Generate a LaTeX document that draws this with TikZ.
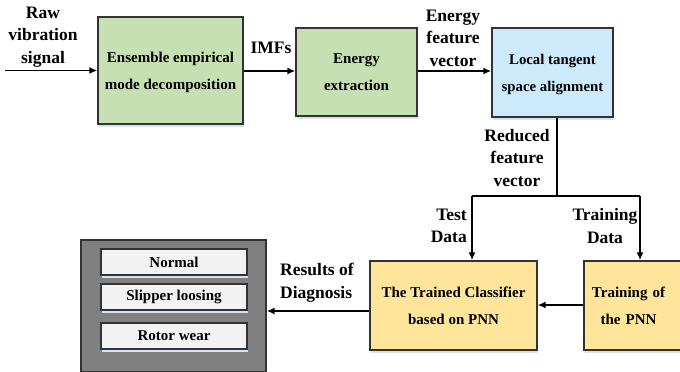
\documentclass[tikz,border=0pt]{standalone}
\usepackage{fontspec}
\setmainfont{Liberation Serif}
\usetikzlibrary{arrows.meta}
\definecolor{gfill}{RGB}{198,224,180}
\definecolor{bfill}{RGB}{204,234,252}
\definecolor{yfill}{RGB}{255,229,153}
\definecolor{grey}{RGB}{128,128,128}
\definecolor{lgrey}{RGB}{242,242,242}
\definecolor{shad}{RGB}{214,226,240}
\newcommand{\twolines}[3]{\raisebox{-#3}{\begin{tabular}{@{}c@{}}#1\\#2\end{tabular}}}
\begin{document}
\begin{tikzpicture}[x=1pt,y=-1pt,
  box/.style={draw=black!80,line width=1.4pt,align=center,font=\fontsize{15}{27}\selectfont\bfseries,inner sep=0pt},
  lab/.style={align=center,font=\fontsize{17.5}{22.5}\selectfont\bfseries,inner sep=0pt},
  conn/.style={line width=1.5pt,-{Latex[length=8pt,width=7pt]}},
  line/.style={line width=1.5pt}]
\useasboundingbox (0,0) rectangle (680,372);
% shadows
\foreach \a/\b/\c/\d in {98/17/243/124, 296/28/417/116, 492/28/613/117, 370/261/537/350, 584/261/690/350}
  \fill[shad] (\a+1,\d) rectangle (\c+1,\d+3);
% boxes
\node[box,fill=gfill,minimum width=145pt,minimum height=107pt] (eemd) at (170.5,70.5) {\twolines{Ensemble empirical}{mode decomposition}{3pt}};
\node[box,fill=gfill,minimum width=121pt,minimum height=88pt] (energy) at (356.5,72) {\twolines{Energy}{extraction}{2.5pt}};
\node[box,fill=bfill,minimum width=121pt,minimum height=89pt,font=\fontsize{14.8}{27}\selectfont\bfseries] (ltsa) at (552.5,72.5) {\twolines{Local tangent}{space alignment}{2pt}};
\node[box,fill=yfill,minimum width=167pt,minimum height=89pt] (cls) at (453.5,305.5) {\twolines{The Trained Classifier}{based on PNN}{1pt}};
\node[box,fill=yfill,minimum width=106pt,minimum height=89pt,text width=100pt] (train) at (637,305.5) {\hspace*{-17pt}\twolines{Training of}{the PNN}{1pt}};
% result box
\node[box,fill=grey,minimum width=185pt,minimum height=132pt] (res) at (173.5,306) {};
\foreach \n/\y/\t in {n1/262/Normal, n2/297/Slipper loosing, n3/336/Rotor wear}{
  \fill[shad] (102,\y+13) rectangle (248,\y+16);
  \node[box,fill=lgrey,line width=1.1pt,minimum width=146pt,minimum height=26pt] (\n) at (174,\y) {\t};
}
% connectors
\coordinate (start) at (5,70.5);
\draw[conn] (start) -- (eemd.west |- start);
\draw[conn] (eemd.east |- 0,71) -- (energy.west |- 0,71);
\draw[conn] (energy.east |- 0,71) -- (ltsa.west |- 0,71);
\coordinate (split) at (557,196);
\coordinate (sl) at (472,196);
\coordinate (sr) at (640,196);
\draw[line] (ltsa.south -| split) -- (split);
\draw[line] (sl) -- (sr);
\draw[conn] (sl) -- (sl |- cls.north);
\draw[conn] (sr) -- (sr |- train.north);
\draw[conn] (train.west |- 0,305) -- (cls.east |- 0,305);
\draw[conn] (cls.west |- 0,311) -- (res.east |- 0,311);
% labels
\node[lab] (l1) at (43,37) {Raw\\vibration\\signal};
\node[lab] (l2) at (271,48) {IMFs};
\node[lab] (l3) at (453,38) {Energy\\feature\\vector};
\node[lab] (l4) at (517,158) {Reduced\\feature\\vector};
\node[lab,align=right,anchor=east] (l5) at (467,226) {Test\\Data};
\node[lab] (l6) at (605,226) {Training\\Data};
\node[lab,align=left,anchor=west] (l7) at (280,283) {Results of\\Diagnosis};
\end{tikzpicture}
\end{document}
